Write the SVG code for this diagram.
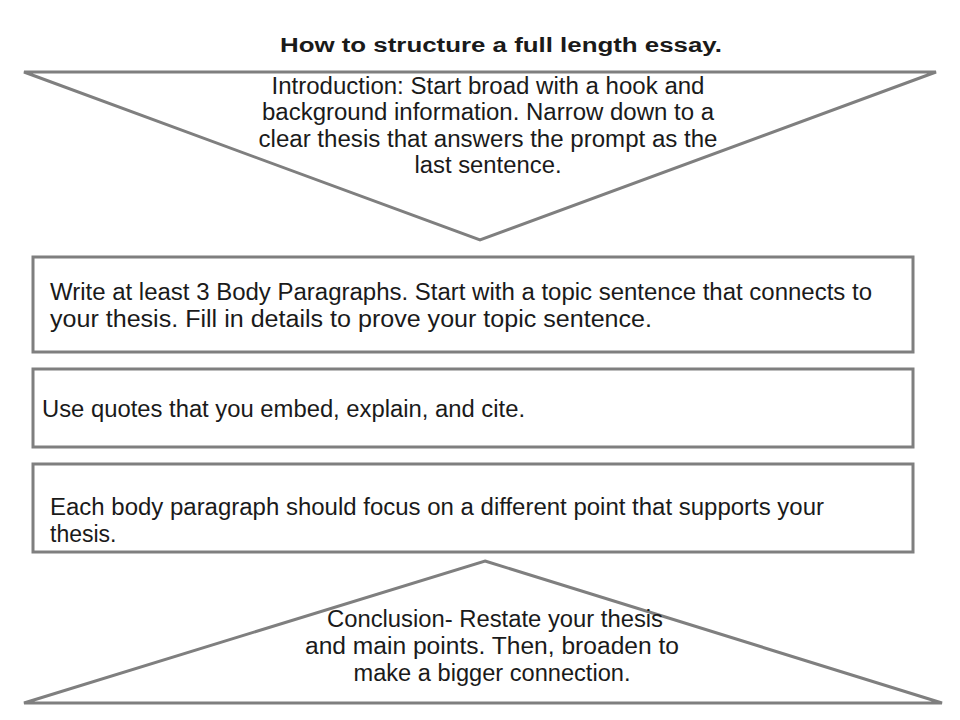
<svg xmlns="http://www.w3.org/2000/svg" width="960" height="720" viewBox="0 0 960 720">
<style>
.s{fill:#fff;stroke:#7f7f7f;stroke-width:3;stroke-linejoin:miter}
text{font-family:"Liberation Sans",Arial,sans-serif;font-size:23px;fill:#1a1a1a}
.c{text-anchor:middle}
</style>
<rect width="960" height="720" fill="#fff"/>
<text class="c" x="501" y="52" textLength="442" lengthAdjust="spacingAndGlyphs" style="font-weight:bold;font-size:20px">How to structure a full length essay.</text>
<g id="intro">
<polygon class="s" points="24,72 936,72 480,240"/>
<text class="c" x="488" y="94" textLength="433" lengthAdjust="spacingAndGlyphs">Introduction: Start broad with a hook and</text>
<text class="c" x="488" y="120" textLength="452" lengthAdjust="spacingAndGlyphs">background information. Narrow down to a</text>
<text class="c" x="488" y="147" textLength="459" lengthAdjust="spacingAndGlyphs">clear thesis that answers the prompt as the</text>
<text class="c" x="488" y="173" textLength="147" lengthAdjust="spacingAndGlyphs">last sentence.</text>
</g>
<g id="body">
<rect class="s" x="33" y="257" width="880" height="95"/>
<text x="50" y="300" textLength="822" lengthAdjust="spacingAndGlyphs">Write at least 3 Body Paragraphs. Start with a topic sentence that connects to</text>
<text x="50" y="327" textLength="602" lengthAdjust="spacingAndGlyphs">your thesis. Fill in details to prove your topic sentence.</text>
</g>
<g id="quotes">
<rect class="s" x="33" y="369" width="880" height="78"/>
<text x="42" y="417" textLength="483" lengthAdjust="spacingAndGlyphs">Use quotes that you embed, explain, and cite.</text>
</g>
<g id="focus">
<rect class="s" x="33" y="464" width="880" height="88"/>
<text x="50" y="515" textLength="774" lengthAdjust="spacingAndGlyphs">Each body paragraph should focus on a different point that supports your</text>
<text x="50" y="542">thesis.</text>
</g>
<g id="conclusion">
<polygon class="s" points="485,561 942,703 24,703"/>
<text class="c" x="495" y="627" textLength="336" lengthAdjust="spacingAndGlyphs">Conclusion- Restate your thesis</text>
<text class="c" x="492" y="654" textLength="374" lengthAdjust="spacingAndGlyphs">and main points.  Then, broaden to</text>
<text class="c" x="492" y="681" textLength="277" lengthAdjust="spacingAndGlyphs">make a bigger connection.</text>
</g>
<g id="connectors"></g>
</svg>
